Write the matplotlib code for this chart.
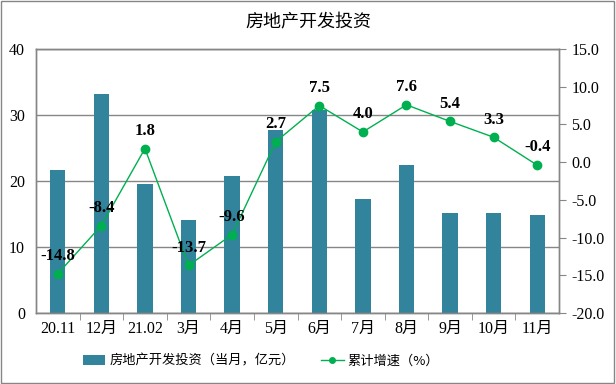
import matplotlib
matplotlib.use("Agg")
import matplotlib.pyplot as plt
from matplotlib.lines import Line2D
from matplotlib.patches import Patch

categories = ["20.11", "12月", "21.02", "3月", "4月", "5月", "6月", "7月", "8月", "9月", "10月", "11月"]
investment = [21.7, 33.2, 19.6, 14.1, 20.8, 27.8, 30.8, 17.2, 22.4, 15.2, 15.2, 14.9]
growth = [-14.8, -8.4, 1.8, -13.7, -9.6, 2.7, 7.5, 4.0, 7.6, 5.4, 3.3, -0.4]
left_ticks = [0, 10, 20, 30, 40]
right_ticks = [-20, -15, -10, -5, 0, 5, 10, 15]

SERIF = ["Liberation Serif", "Noto Sans CJK SC"]
CJK = ["Noto Sans CJK SC", "DejaVu Sans"]
bar_color = "#31849B"
line_color = "#00B050"
grid_color = "#868686"

fig = plt.figure(figsize=(6.16, 3.84), dpi=100)
fig.patches.append(plt.Rectangle((0.002, 0.003), 0.995, 0.994, transform=fig.transFigure,
                                 fill=False, edgecolor="#868686", linewidth=1.0))
ax = fig.add_axes([36 / 616, 1 - 313 / 384, (559 - 36) / 616, (313 - 49) / 384])
ax2 = ax.twinx()

x = list(range(len(categories)))
ax.bar(x, investment, width=0.35, color=bar_color, zorder=2)
ax.set_ylim(0, 40)
ax.set_yticks(left_ticks)
ax.set_xlim(-0.5, len(categories) - 0.5)
ax.yaxis.grid(True, color=grid_color, linewidth=1.0, zorder=0)
ax.set_axisbelow(True)
ax.tick_params(axis="y", length=0, pad=8, labelsize=11.5)
ax.set_xticks(x)
ax.set_xticklabels(categories)
ax.set_xticks([i + 0.5 for i in x[:-1]], minor=True)
ax.tick_params(axis="x", which="major", length=0, pad=6, labelsize=11.5)
ax.tick_params(axis="x", which="minor", length=5, color=grid_color, direction="out")
for lbl in ax.get_xticklabels() + ax.get_yticklabels():
    lbl.set_fontfamily(SERIF)

ax2.plot(x, growth, color=line_color, linewidth=1.0, marker="o", markersize=6, zorder=3)
ax2.set_ylim(-20, 15)
ax2.set_yticks(right_ticks)
ax2.set_yticklabels([f"{v:.1f}" for v in right_ticks])
ax2.tick_params(axis="y", length=5, color=grid_color, direction="out", pad=4, labelsize=11.5)
for lbl in ax2.get_yticklabels():
    lbl.set_fontfamily(SERIF)
for xi, g in zip(x, growth):
    ax2.annotate(f"{g:.1f}", (xi, g), xytext=(0, 7), textcoords="offset points",
                 ha="center", va="bottom", fontsize=12, fontweight="bold", family=SERIF)

for a in (ax, ax2):
    for s in a.spines.values():
        s.set_color(grid_color)
        s.set_linewidth(1.0)

fig.text(0.5, 1 - 22 / 384, "房地产开发投资", ha="center", va="center", fontsize=13, family=CJK)

handles = [Patch(facecolor=bar_color, edgecolor="none"),
           Line2D([0], [0], color=line_color, marker="o", markersize=4, linewidth=1.0)]
labels = ["房地产开发投资（当月，亿元）", "累计增速（%）"]
fig.legend(handles, labels, loc="center", bbox_to_anchor=(261 / 616, 1 - 361 / 384), ncol=2,
           frameon=False, prop={"family": CJK, "size": 9.5}, handlelength=1.7,
           handleheight=0.7, columnspacing=2.0, handletextpad=0.3)

fig.savefig("out.png", dpi=100)
